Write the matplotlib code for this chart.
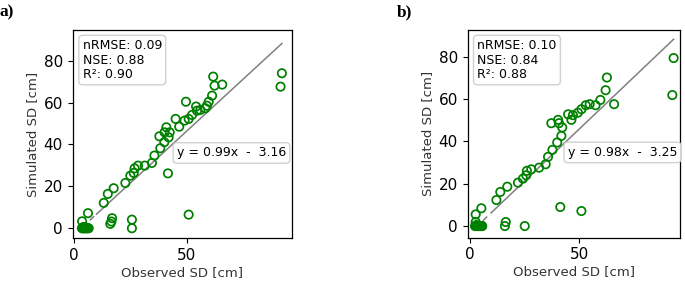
import matplotlib
matplotlib.use("Agg")
import matplotlib.pyplot as plt
import numpy as np

# ---- Panel a data ----
obs_a = [92.3, 91.7, 61.8, 62.4, 65.8, 61.3, 49.7, 59.8, 59.0, 58.3, 54.2, 54.6, 56.1,
         52.4, 50.9, 49.1, 45.1, 46.7, 41.0, 42.5, 40.2, 37.9, 42.0, 40.1, 38.3, 35.7,
         34.6, 31.4, 28.4, 26.9, 26.5, 25.0, 22.8, 17.6, 15.0, 13.2, 41.7, 50.9, 6.2,
         3.6, 16.9, 16.6, 16.1, 25.7, 25.7,
         3.5, 4.0, 4.5, 5.0, 5.5, 6.0, 6.5, 4.2, 5.2]
sim_a = [74.0, 67.6, 72.4, 68.1, 68.6, 63.3, 60.4, 60.4, 58.5, 57.3, 58.1, 56.1, 56.5,
         54.1, 52.2, 51.4, 52.2, 48.5, 48.2, 45.8, 45.8, 43.9, 43.4, 41.1, 38.2, 34.7,
         31.2, 29.9, 29.9, 28.6, 26.4, 25.1, 21.6, 19.1, 16.4, 12.1, 26.2, 6.5, 7.2,
         3.3, 4.8, 3.2, 2.1, 4.1, 0.0,
         0.0, 0.0, 0.0, 0.0, 0.0, 0.0, 0.0, 0.6, 0.4]
stats_a = "nRMSE: 0.09\nNSE: 0.88\nR²: 0.90"
slope_a, icpt_a = 0.99, -3.16
eq_a = "y = 0.99x  -  3.16"

# ---- Panel b data ----
obs_b = [93.4, 92.8, 62.8, 62.2, 66.1, 59.8, 54.9, 57.6, 53.1, 51.1, 49.5, 47.2, 45.0,
         46.5, 37.3, 40.4, 40.8, 42.3, 41.9, 40.0, 37.8, 35.8, 34.7, 31.7, 28.1, 26.1,
         25.8, 24.3, 22.0, 17.1, 13.9, 12.1, 5.2, 2.6, 41.4, 51.1, 16.4, 16.0, 25.1,
         2.6, 2.3, 2.8, 3.3, 3.8, 4.3, 4.8, 5.3, 5.6, 3.0]
sim_b = [79.4, 61.9, 70.2, 64.2, 57.6, 59.6, 57.6, 57.1, 57.1, 55.2, 53.6, 52.4, 52.8,
         50.2, 48.6, 50.2, 48.6, 46.6, 42.6, 39.5, 36.0, 32.7, 29.2, 27.6, 26.8, 26.1,
         24.0, 22.4, 20.5, 18.6, 16.1, 12.3, 8.4, 5.5, 9.0, 7.1, 1.9, 0.0, 0.0,
         1.9, 0.0, 0.0, 0.0, 0.0, 0.0, 0.0, 0.0, 0.0, 0.5]
stats_b = "nRMSE: 0.10\nNSE: 0.84\nR²: 0.88"
slope_b, icpt_b = 0.98, -3.25
eq_b = "y = 0.98x  -  3.25"

fig = plt.figure(figsize=(6.85, 2.86), dpi=100)

panels = [
    dict(pos=[0.1061, 0.1668, 0.3202, 0.7294], obs=obs_a, sim=sim_a, stats=stats_a,
         slope=slope_a, icpt=icpt_a, eq=eq_a, xlim=(-0.6, 96.8), ylim=(-4.8, 94.8),
         eqpos=(0.724, 0.409), label="a)", labpos=(0.0, 0.985)),
    dict(pos=[0.6828, 0.1689, 0.3095, 0.7273], obs=obs_b, sim=sim_b, stats=stats_b,
         slope=slope_b, icpt=icpt_b, eq=eq_b, xlim=(-1.05, 96.2), ylim=(-5.5, 92.8),
         eqpos=(0.73, 0.41), label="b)", labpos=(0.580, 0.985)),
]

for p in panels:
    ax = fig.add_axes(p["pos"])
    obs = np.array(p["obs"])
    sim = np.array(p["sim"])
    x0, x1 = obs.min(), obs.max()
    xb = 10.0
    ax.plot([x0, xb], [p["slope"] * x0 + p["icpt"], p["slope"] * xb + p["icpt"]],
            color="gray", lw=1.1, ls=(0, (4, 3)), zorder=1)
    ax.plot([xb, x1], [p["slope"] * xb + p["icpt"], p["slope"] * x1 + p["icpt"]],
            color="gray", lw=1.1, zorder=1)
    ax.scatter(obs, sim, s=36, facecolors="none", edgecolors="green", linewidths=1.25, zorder=2)
    ax.set_xlim(*p["xlim"])
    ax.set_ylim(*p["ylim"])
    ax.set_xticks([0, 50])
    ax.set_yticks([0, 20, 40, 60, 80])
    ax.tick_params(labelsize=11, length=3.5, width=0.8)
    ax.set_xlabel("Observed SD [cm]", fontsize=9.5, color="#333333", labelpad=2)
    ax.set_ylabel("Simulated SD [cm]", fontsize=9.5, color="#333333", labelpad=3)
    for s in ax.spines.values():
        s.set_linewidth(0.9)
    ax.text(0.045, 0.955, p["stats"], transform=ax.transAxes, fontsize=9, va="top", ha="left",
            linespacing=1.15,
            bbox=dict(boxstyle="round,pad=0.3", facecolor="white", edgecolor="#cccccc", alpha=0.9))
    ax.text(p["eqpos"][0], p["eqpos"][1], p["eq"], transform=ax.transAxes, fontsize=9,
            va="center", ha="center",
            bbox=dict(boxstyle="round,pad=0.3", facecolor="white", edgecolor="#cccccc", alpha=0.9))
    fig.text(p["labpos"][0], p["labpos"][1], p["label"], fontsize=12.5, fontweight="bold",
             family="Liberation Serif", va="top", ha="left")

fig.savefig("out.png", dpi=100)
